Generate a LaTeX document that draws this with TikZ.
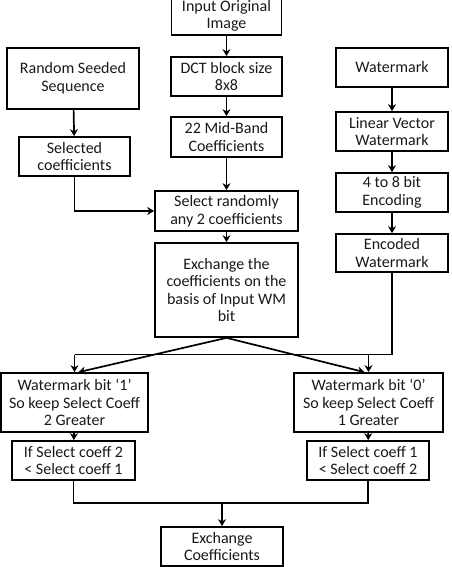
\documentclass[tikz,border=0pt]{standalone}
\usepackage{fontspec}
\setmainfont{Carlito}
\usetikzlibrary{arrows.meta,calc}
\begin{document}
\begin{tikzpicture}[x=1pt,y=1pt,
  box/.style={draw=black, line width=1.7pt, inner sep=0pt, align=center,
    font=\fontsize{16}{17.6}\selectfont, text=black!90},
  arr/.style={line width=1.7pt, -{Stealth[length=7pt,width=8pt]}},
  ln/.style={line width=1.7pt}]
\useasboundingbox (0,0) rectangle (451,-567);
\clip (0,0) rectangle (451,-567);
% centre column
\node[box, minimum width=110pt, minimum height=38pt] (inp) at (226.5,-16) {Input Original\\Image};
\node[box, minimum width=111pt, minimum height=39pt] (dct) at (226.5,-76.5) {DCT block size\\8x8};
\node[box, minimum width=111pt, minimum height=40pt] (mid) at (226.5,-137) {22 Mid-Band\\Coefficients};
\node[box, minimum width=143pt, minimum height=40pt] (srand) at (226.5,-211) {Select randomly\\any 2 coefficients};
\node[box, minimum width=143pt, minimum height=94pt] (exch) at (226.5,-290) {Exchange the\\coefficients on the\\basis of Input WM\\bit};
% left column
\node[box, minimum width=132pt, minimum height=61pt] (rss) at (73,-78.5) {Random Seeded\\Sequence};
\node[box, minimum width=111pt, minimum height=39pt] (sel) at (74.5,-156.5) {Selected\\coefficients};
% right column
\node[box, minimum width=112pt, minimum height=39pt] (wm) at (392,-67.5) {Watermark};
\node[box, minimum width=112pt, minimum height=39pt] (lvw) at (392,-131.5) {Linear Vector\\Watermark};
\node[box, minimum width=112pt, minimum height=39pt] (enc) at (392,-192.5) {4 to 8 bit\\Encoding};
\node[box, minimum width=112pt, minimum height=38pt] (encw) at (392,-253) {Encoded\\Watermark};
% lower part
\node[box, minimum width=147pt, minimum height=59pt] (wb1) at (74.5,-402.5) {Watermark bit `1'\\So keep Select Coeff\\2 Greater};
\node[box, minimum width=149pt, minimum height=59pt] (wb0) at (368.5,-402.5) {Watermark bit `0'\\So keep Select Coeff\\1 Greater};
\node[box, minimum width=123pt, minimum height=39pt] (if2) at (73.5,-460.5) {If Select coeff 2\\< Select coeff 1};
\node[box, minimum width=122pt, minimum height=39pt] (if1) at (368,-460.5) {If Select coeff 1\\< Select coeff 2};
\node[box, minimum width=122pt, minimum height=39pt] (exc) at (222,-546.5) {Exchange\\Coefficients};
% junctions
\coordinate (j1) at (74.5,-354.5);
\coordinate (j2) at (368.5,-354.5);
\coordinate (jb) at (222,-503);
% connectors
\draw[arr] (inp) -- (dct);
\draw[arr] (dct) -- (mid);
\draw[arr] (mid) -- (srand);
\draw[arr] (srand) -- (exch);
\draw[arr] (rss) -- (sel);
\draw[arr] (sel.south) |- (srand.west);
\draw[arr] (wm) -- (lvw);
\draw[arr] (lvw) -- (enc);
\draw[arr] (enc) -- (encw);
\draw[ln] (encw.south) |- (j1);
\draw[arr] (j1) -- (wb1.north);
\draw[arr] (j2) -- (wb0.north);
\draw[arr] (exch.south) -- ($(wb1.north)+(4,0)$);
\draw[arr] (exch.south) -- ($(wb0.north)+(-4,0)$);
\draw[arr] (wb1) -- (if2);
\draw[arr] (wb0) -- (if1);
\draw[ln] (if2.south) |- (jb) -| (if1.south);
\draw[arr] (jb) -- (exc.north);
\end{tikzpicture}
\end{document}
